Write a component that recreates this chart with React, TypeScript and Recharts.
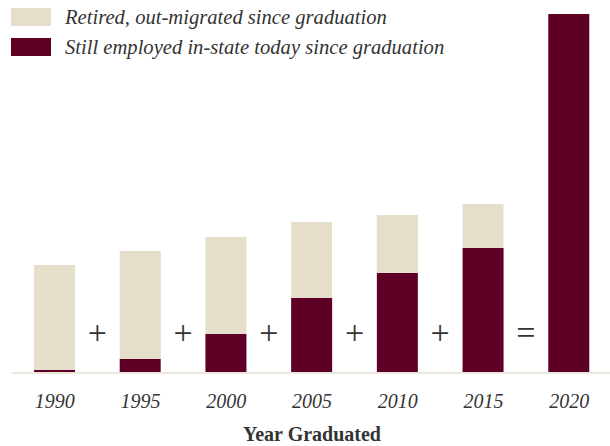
import React from 'react';
import { BarChart, Bar, XAxis, YAxis, Legend, LabelList, Label } from 'recharts';

const years = ['1990', '1995', '2000', '2005', '2010', '2015', '2020'];
const stillEmployed = [3, 14, 39, 75, 100, 125, 359];
const leftState = [105, 108, 97, 76, 58, 44, 0];
const operators = ['+', '+', '+', '+', '+', '=', ''];

const seriesNames = {
  left: 'Retired, out-migrated since graduation',
  still: 'Still employed in-state today since graduation',
};

const DARK = '#5e0025';
const LIGHT = '#e4decb';
const TEXT = '#333';
const FONT = '"Liberation Serif", "Times New Roman", serif';

const W = 614;
const H = 446;
const MARGIN = { top: 14, right: 2, left: 12, bottom: 0 };
const BAND = (W - MARGIN.left - MARGIN.right) / years.length;

const data = years.map((year, i) => ({
  year,
  still: stillEmployed[i],
  left: leftState[i],
  op: operators[i],
}));

const legendItems = [
  { name: seriesNames.left, color: LIGHT },
  { name: seriesNames.still, color: DARK },
];

const LegendBox = () => (
  <div style={{ fontFamily: FONT, fontStyle: 'italic', fontSize: 20.6, color: TEXT }}>
    {legendItems.map((item) => (
      <div key={item.name} style={{ display: 'flex', alignItems: 'center', height: 30 }}>
        <span style={{ width: 40, height: 18, background: item.color, marginRight: 14, display: 'inline-block' }} />
        <span>{item.name}</span>
      </div>
    ))}
  </div>
);

const YearTick = (props: any) => {
  const { x, y, payload } = props;
  return (
    <text x={x} y={y + 35} textAnchor="middle" fontFamily={FONT} fontStyle="italic" fontSize={20} fill={TEXT}>
      {payload.value}
    </text>
  );
};

const OperatorLabel = (props: any) => {
  const { x, y, width, height, index } = props;
  const op = operators[index];
  if (!op) return null;
  return (
    <text
      x={x + width / 2 + BAND / 2}
      y={y + height - 29}
      textAnchor="middle"
      fontFamily={FONT}
      fontSize={34}
      fill={TEXT}
    >
      {op}
    </text>
  );
};

const App = () => {
  return (
    <div style={{ position: 'absolute', left: 0, top: 0, width: 610, height: H, overflow: 'hidden', background: '#fff' }}>
      <BarChart width={W} height={H} data={data} margin={MARGIN} barSize={41}>
        <XAxis
          dataKey="year"
          height={73}
          tickSize={0}
          tickMargin={0}
          tickLine={false}
          axisLine={{ stroke: '#ede7dc', strokeWidth: 2 }}
          tick={<YearTick />}
        >
          <Label
            value="Year Graduated"
            position="insideBottom"
            offset={5}
            style={{ fontFamily: FONT, fontWeight: 700, fontSize: 20, fill: TEXT }}
          />
        </XAxis>
        <YAxis hide domain={[0, 359]} />
        <Legend
          layout="vertical"
          align="center"
          verticalAlign="middle"
          wrapperStyle={{ top: 2, left: 11, width: 520 }}
          content={<LegendBox />}
        />
        <Bar dataKey="still" stackId="a" fill={DARK} name={seriesNames.still} isAnimationActive={false}>
          <LabelList dataKey="op" content={<OperatorLabel />} />
        </Bar>
        <Bar dataKey="left" stackId="a" fill={LIGHT} name={seriesNames.left} isAnimationActive={false} />
      </BarChart>
    </div>
  );
};

export default App;
